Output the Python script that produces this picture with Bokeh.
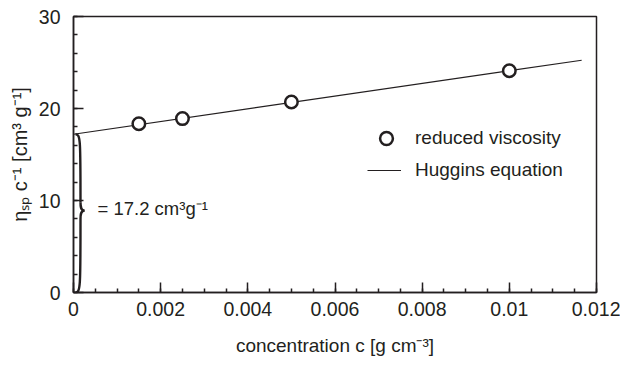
from bokeh.plotting import figure
from bokeh.models import (Range1d, FixedTicker, Legend, LegendItem, Label)
from bokeh.embed import file_html
from bokeh.resources import INLINE
import numpy as np

# data
conc = [0.0015, 0.0025, 0.005, 0.01]
red_visc = [18.35, 18.9, 20.7, 24.1]
intercept = 17.2
slope = 690.0
fit_x = [0.0, 0.01166]
fit_y = [intercept + slope * x for x in fit_x]
x_ticks = [0, 0.002, 0.004, 0.006, 0.008, 0.01, 0.012]
x_tick_labels = ["0", "0.002", "0.004", "0.006", "0.008", "0.01", "0.012"]
y_ticks = [0, 10, 20, 30]

FONT = "Liberation Sans"
INK = "#231f20"

p = figure(width=620, height=365, output_backend="svg", toolbar_location=None,
           x_range=Range1d(0, 0.012), y_range=Range1d(0, 30),
           min_border_left=73, min_border_right=24, min_border_top=16,
           min_border_bottom=73)
p.grid.visible = False
p.outline_line_color = INK
p.outline_line_width = 1.5
p.background_fill_color = "white"
p.border_fill_color = "white"

for ax in (p.xaxis[0], p.yaxis[0]):
    ax.axis_line_color = INK
    ax.axis_line_width = 1.5
    ax.major_tick_in = 10
    ax.major_tick_out = 0
    ax.minor_tick_in = 4
    ax.minor_tick_out = 0
    ax.major_tick_line_color = INK
    ax.minor_tick_line_color = INK
    ax.major_tick_line_width = 1.5
    ax.minor_tick_line_width = 1.5
    ax.major_label_text_font = FONT
    ax.major_label_text_font_size = "19.5px"
    ax.major_label_text_color = INK
    ax.axis_label_text_font = FONT
    ax.axis_label_text_font_size = "19px"
    ax.axis_label_text_font_style = "normal"
    ax.axis_label_text_color = INK

p.xaxis.major_label_standoff = 9
p.yaxis.major_label_standoff = 13
p.xaxis.ticker = FixedTicker(ticks=x_ticks,
                             minor_ticks=list(np.arange(0, 0.01201, 0.0005)))
p.xaxis.major_label_overrides = {t: l for t, l in zip(x_ticks, x_tick_labels)}
p.yaxis.ticker = FixedTicker(ticks=y_ticks, minor_ticks=list(range(0, 31, 2)))
p.xaxis.axis_label = "concentration c [g cm\u207b\u00b3]"
p.yaxis.axis_label = "\u03b7\u209b\u209a c\u207b\u00b9 [cm\u00b3 g\u207b\u00b9]"
p.yaxis.axis_label_text_font_size = "20px"
p.xaxis.axis_label_standoff = 16
p.yaxis.axis_label_standoff = 5

# fit line
ln = p.line(fit_x, fit_y, line_color=INK, line_width=1.2)
# data points
sc = p.scatter(conc, red_visc, marker="circle", size=12.5, fill_color="white",
               line_color=INK, line_width=2.5)

# curly brace from 0 to intercept
dx = 0.012 / 523.0  # approx data units per pixel
xb = 7 * dx
xt = 11 * dx
xe = 2 * dx
ym = intercept / 2 + 0.3
yr = intercept
p.bezier(x0=[xe, xb, xe, xb], y0=[yr, ym + 0.9, 0, ym - 0.9],
         x1=[xb, xt, xb, xt], y1=[ym + 0.9, ym, ym - 0.9, ym],
         cx0=[xb, xb, xb, xb], cy0=[yr, ym + 0.5, 0, ym - 0.5],
         cx1=[xb, xb, xb, xb], cy1=[yr - 0.6, ym, 0.6, ym],
         line_color=INK, line_width=2.4)

p.add_layout(Label(x=0.00055, y=9.1, text="= 17.2 cm\u00b3g\u207b\u00b9",
                   text_font=FONT, text_font_size="18.5px", text_color=INK,
                   text_baseline="middle"))

common = dict(border_line_color=None, background_fill_alpha=0, padding=0,
              margin=0, label_text_font=FONT, label_text_font_size="19px",
              label_text_color=INK)
leg1 = Legend(items=[LegendItem(label="reduced viscosity", renderers=[sc])],
              location=(297, 138), glyph_width=32, glyph_height=32,
              label_height=32, label_standoff=13, **common)
leg2 = Legend(items=[LegendItem(label="Huggins equation", renderers=[ln])],
              location=(294, 111), glyph_width=34, glyph_height=20,
              label_height=20, label_standoff=14, **common)
p.add_layout(leg1)
p.add_layout(leg2)

open("out.html", "w").write(file_html(p, INLINE))
